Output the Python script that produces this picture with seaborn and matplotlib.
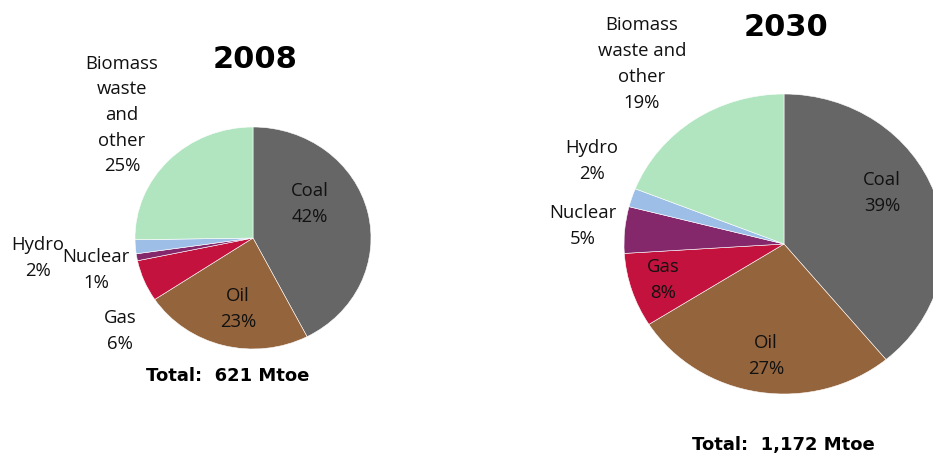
import matplotlib
matplotlib.use('Agg')
import matplotlib.pyplot as plt
import seaborn as sns

sns.set_theme(style='white')
plt.rcParams['font.family'] = ['Open Sans', 'DejaVu Sans']

# data
fuels = ['Coal', 'Oil', 'Gas', 'Nuclear', 'Hydro', 'Biomass waste and other']
share_2008 = [42, 23, 6, 1, 2, 25]
share_2030 = [39, 27, 8, 5, 2, 19]
totals = ['621', '1,172']
years = ['2008', '2030']

colors = sns.color_palette(['#666666', '#94643C', '#C4123E', '#84286B', '#9DBFE7', '#B0E5C0'])

W, H = 933, 458
fig = plt.figure(figsize=(W / 100, H / 100), dpi=100)


def px_ax(x0, y0, x1, y1):
    # axes from pixel box (top-left origin)
    return fig.add_axes([x0 / W, 1 - y1 / H, (x1 - x0) / W, (y1 - y0) / H])


def txt(x, y, s, **kw):
    kw.setdefault('fontsize', 13.3)
    kw.setdefault('color', '#111111')
    kw.setdefault('linespacing', 1.55)
    fig.text(x / W, 1 - y / H, s, ha='center', va='center', **kw)


def bold(x, y, s, size):
    fig.text(x / W, 1 - y / H, s, ha='center', va='center', fontsize=size,
             fontweight='bold', color='black', family=['DejaVu Sans'])


def draw_pie(ax, vals):
    ax.pie(vals, colors=colors, startangle=90, counterclock=False,
           wedgeprops=dict(edgecolor='white', linewidth=0.4))
    ax.set_aspect('auto')
    ax.set_xlim(-1, 1)
    ax.set_ylim(-1, 1)
    ax.axis('off')


ax1 = px_ax(135, 127, 371, 349)
draw_pie(ax1, share_2008)
ax2 = px_ax(624, 94, 944, 394)
draw_pie(ax2, share_2030)

# 2008 labels
bold(255, 60, years[0], 22)
txt(122, 115, 'Biomass\nwaste\nand\nother\n%d%%' % share_2008[5])
txt(310, 204, 'Coal\n%d%%' % share_2008[0])
txt(238, 309, 'Oil\n%d%%' % share_2008[1])
txt(120, 331, 'Gas\n%d%%' % share_2008[2])
txt(38, 258, 'Hydro\n%d%%' % share_2008[4])
txt(96, 270, 'Nuclear\n%d%%' % share_2008[3])
bold(228, 376, 'Total:  %s Mtoe' % totals[0], 13)

# 2030 labels
bold(786, 27, years[1], 22)
txt(642, 64, 'Biomass\nwaste and\nother\n%d%%' % share_2030[5])
txt(592, 161, 'Hydro\n%d%%' % share_2030[4])
txt(583, 226, 'Nuclear\n%d%%' % share_2030[3])
txt(663, 280, 'Gas\n%d%%' % share_2030[2])
txt(882, 193, 'Coal\n%d%%' % share_2030[0])
txt(766, 356, 'Oil\n%d%%' % share_2030[1])
bold(783, 445, 'Total:  %s Mtoe' % totals[1], 13)

fig.savefig('out.png', dpi=100, facecolor='white')
